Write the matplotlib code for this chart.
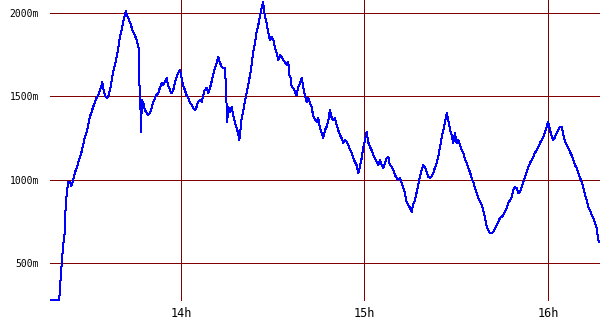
import matplotlib
matplotlib.use('Agg')
import matplotlib.pyplot as plt

# time in minutes after 13:00, altitude in metres
minutes = [17.2, 20.2, 20.7, 21.2, 21.5, 22.0, 22.2, 22.4, 22.8, 23.1, 23.7, 24.2, 24.8,
           25.3, 25.9, 26.4, 27.0, 27.5, 28.0, 28.6, 29.2, 29.7, 30.2, 30.8, 31.3, 31.9,
           32.4, 33.0, 33.5, 34.1, 34.3, 34.6, 35.1, 35.7, 36.2, 36.8, 37.3, 37.8, 38.4,
           39.0, 39.5, 40.0, 40.6, 41.1, 41.7, 42.0, 42.4, 43.0, 43.5, 44.1, 44.6, 45.3,
           45.7, 46.2, 46.3, 46.6, 46.8, 47.0, 47.2, 47.7, 48.2, 48.8, 49.3, 49.9, 50.4,
           50.9, 51.5, 52.0, 52.6, 53.1, 53.7, 54.2, 54.8, 55.3, 55.8, 56.4, 56.9, 57.5,
           58.0, 58.6, 59.1, 59.7, 60.2, 60.7, 61.3, 61.8, 62.4, 62.9, 63.5, 64.0, 64.6,
           65.1, 65.6, 66.2, 66.8, 67.3, 67.8, 68.4, 68.9, 69.5, 70.0, 70.5, 71.1, 71.7,
           72.2, 72.7, 73.3, 73.8, 74.4, 74.7, 74.9, 75.1, 75.5, 76.0, 76.6, 77.1, 77.6,
           78.2, 78.7, 79.1, 79.5, 79.8, 80.4, 80.9, 81.5, 82.0, 82.6, 83.1, 83.6, 84.2,
           84.7, 85.3, 85.8, 86.4, 86.9, 87.1, 87.5, 88.0, 88.5, 89.1, 89.6, 90.2, 90.7,
           91.3, 91.8, 92.4, 92.9, 93.4, 94.0, 94.6, 95.1, 95.4, 95.9, 96.2, 96.7, 97.3,
           97.8, 98.3, 98.9, 99.5, 100.0, 100.5, 101.1, 101.6, 102.2, 102.7, 103.2, 103.8,
           104.4, 104.9, 105.4, 106.0, 106.5, 107.1, 107.6, 108.2, 108.7, 109.3, 109.8,
           110.3, 110.9, 111.4, 112.0, 112.5, 113.1, 113.6, 114.2, 114.7, 115.3, 115.8,
           116.3, 116.9, 117.4, 118.0, 118.5, 119.1, 119.6, 120.2, 120.7, 121.2, 121.8,
           122.3, 122.9, 123.4, 124.0, 124.5, 125.1, 125.6, 126.1, 126.7, 127.3, 127.8,
           128.3, 128.9, 129.4, 130.0, 130.5, 131.0, 131.6, 132.2, 132.7, 133.2, 133.8,
           134.3, 134.9, 135.4, 135.9, 136.5, 137.0, 137.6, 138.1, 138.7, 139.2, 139.8,
           140.3, 140.9, 141.4, 141.9, 142.5, 143.0, 143.6, 144.1, 144.7, 145.2, 145.8,
           146.3, 146.9, 147.4, 148.0, 148.5, 149.0, 149.6, 150.1, 150.7, 151.2, 151.8,
           152.3, 152.9, 153.4, 153.9, 154.5, 155.0, 155.6, 156.1, 156.7, 157.2, 157.8,
           158.3, 158.8, 159.4, 160.0, 160.5, 161.0, 161.6, 162.1, 162.7, 163.2, 163.7,
           164.3, 164.8, 165.4, 165.9, 166.5, 167.0, 167.6, 168.1, 168.7, 169.2, 169.8,
           170.3, 170.8, 171.4, 171.9, 172.5, 173.0, 173.6, 174.1, 174.7, 175.2, 175.7,
           176.3, 176.8, 177.4, 177.9, 178.5, 179.0, 179.6, 180.0, 180.4, 180.9, 181.3,
           181.7, 182.3, 182.8, 183.4, 183.9, 184.5, 185.0, 185.6, 186.1, 186.6, 187.2,
           187.7, 188.3, 188.8, 189.4, 189.9, 190.5, 191.0, 191.5, 192.1, 192.6, 193.2,
           193.7, 194.3, 194.8, 195.4, 195.9, 196.2, 196.6]
altitude = [278, 278, 416, 536, 608, 680, 776, 878, 926, 986, 986, 962, 998,
            1040, 1070, 1100, 1136, 1166, 1208, 1256, 1286, 1328, 1376, 1406, 1436, 1466,
            1490, 1508, 1538, 1568, 1586, 1550, 1508, 1490, 1496, 1538, 1586, 1646, 1688,
            1736, 1790, 1850, 1898, 1946, 1988, 2012, 1988, 1958, 1940, 1898, 1880, 1850,
            1826, 1790, 1640, 1496, 1418, 1286, 1478, 1460, 1418, 1400, 1388, 1400, 1430,
            1460, 1490, 1508, 1520, 1550, 1580, 1568, 1586, 1610, 1568, 1538, 1520, 1538,
            1580, 1616, 1640, 1658, 1610, 1568, 1538, 1508, 1490, 1466, 1448, 1430, 1418,
            1436, 1466, 1478, 1466, 1508, 1538, 1550, 1520, 1550, 1586, 1628, 1670, 1700,
            1736, 1706, 1676, 1670, 1670, 1556, 1460, 1346, 1436, 1406, 1436, 1388, 1346,
            1310, 1280, 1238, 1310, 1358, 1418, 1466, 1520, 1568, 1628, 1688, 1760, 1820,
            1880, 1928, 1976, 2030, 2068, 2018, 1976, 1940, 1886, 1838, 1856, 1838, 1796,
            1760, 1718, 1748, 1736, 1718, 1706, 1688, 1706, 1628, 1610, 1556, 1550, 1526,
            1508, 1550, 1580, 1610, 1556, 1508, 1466, 1490, 1460, 1436, 1388, 1358,
            1346, 1370, 1316, 1280, 1250, 1298, 1316, 1358, 1418, 1370, 1358,
            1370, 1328, 1298, 1268, 1250, 1220, 1238, 1226, 1208, 1178, 1160,
            1130, 1106, 1088, 1040, 1076, 1130, 1190, 1238, 1286, 1226, 1196,
            1178, 1148, 1130, 1106, 1088, 1118, 1088, 1070, 1100, 1130, 1136,
            1088, 1076, 1058, 1028, 1010, 998, 1010, 980, 950, 920, 866,
            848, 830, 806, 848, 878, 920, 968, 1016, 1058, 1088, 1076,
            1046, 1016, 1010, 1016, 1040, 1070, 1100, 1136, 1196, 1250, 1298,
            1346, 1400, 1358, 1298, 1268, 1220, 1280, 1220, 1238, 1208, 1178,
            1160, 1118, 1100, 1070, 1046, 1010, 986, 950, 920, 890, 866,
            848, 818, 770, 716, 698, 680, 680, 686, 710, 728, 746,
            770, 776, 788, 806, 830, 860, 878, 896, 938, 956, 950,
            920, 926, 956, 986, 1016, 1046, 1076, 1100, 1118, 1136, 1160,
            1178, 1196, 1220, 1238, 1256, 1286, 1316, 1346, 1316, 1280, 1256,
            1238, 1256, 1280, 1298, 1316, 1316, 1268, 1226, 1208, 1190, 1166,
            1148, 1118, 1088, 1070, 1040, 1010, 986, 956, 908, 878, 836,
            818, 788, 770, 740, 710, 668, 626]

hour_ticks = [60, 120, 180]
hour_labels = ['14h', '15h', '16h']
alt_ticks = [500, 1000, 1500, 2000]
alt_labels = ['500m', '1000m', '1500m', '2000m']

fig = plt.figure(figsize=(6, 3.3), dpi=100)
ax = fig.add_axes([50 / 600, 29 / 330, 550 / 600, 301 / 330])

ax.plot(minutes, altitude, color='#0000ff', linewidth=0.72,
        antialiased=False, zorder=3)

ax.set_xlim(17.2, 197.0)
ax.set_ylim(272, 2078)

ax.set_xticks(hour_ticks)
ax.set_xticklabels(hour_labels, fontsize=8.5, fontfamily='DejaVu Sans Mono')
ax.set_yticks(alt_ticks)
ax.set_yticklabels(alt_labels, fontsize=7, fontfamily='DejaVu Sans Mono')
ax.tick_params(axis='x', length=0, pad=4)
ax.tick_params(axis='y', length=0, pad=8)

ax.grid(True, color='#800000', linewidth=0.72, antialiased=False)
ax.set_axisbelow(True)
for s in ax.spines.values():
    s.set_visible(False)

fig.savefig('out.png', dpi=100)
